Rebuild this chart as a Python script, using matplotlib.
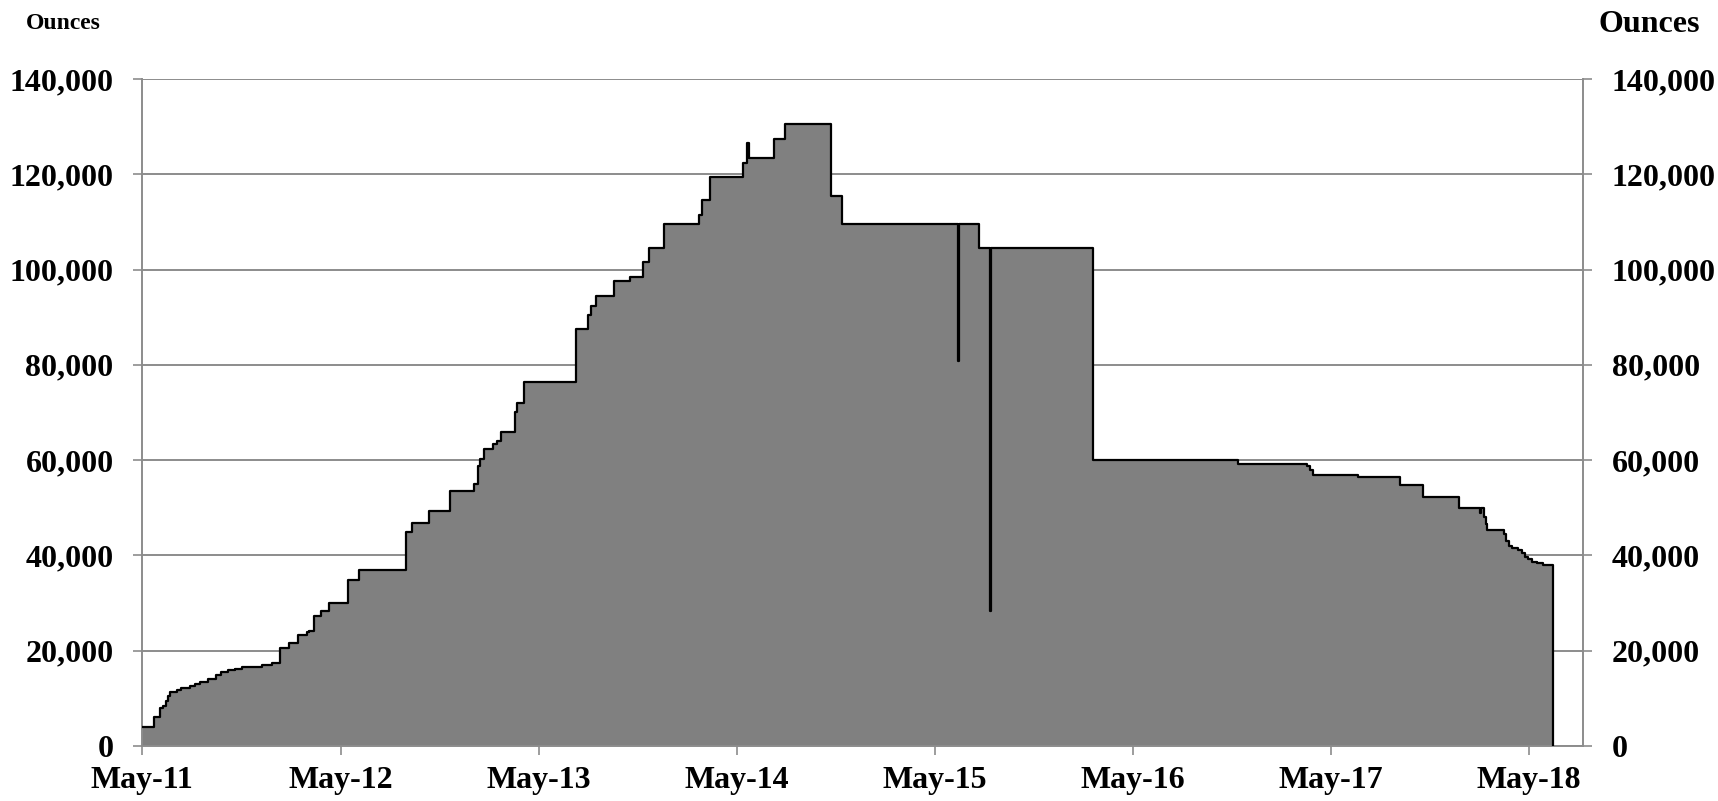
import numpy as np
import pandas as pd
import matplotlib
matplotlib.use("Agg")
import matplotlib.pyplot as plt
from matplotlib.ticker import FuncFormatter

plt.rcParams["font.family"] = ["Liberation Serif", "DejaVu Serif"]
plt.rcParams["font.weight"] = "bold"

# %% data: date of each change in holdings, ounces held from that date on
change_dates = [
    "2011-05-01", "2011-05-23", "2011-06-03", "2011-06-09", "2011-06-14",
    "2011-06-18", "2011-06-22", "2011-07-04", "2011-07-11", "2011-07-28",
    "2011-08-07", "2011-08-16", "2011-08-31", "2011-09-14", "2011-09-24",
    "2011-10-07", "2011-10-19", "2011-11-02", "2011-12-08", "2011-12-26",
    "2012-01-10", "2012-01-26", "2012-02-13", "2012-02-29", "2012-03-04",
    "2012-03-12", "2012-03-26", "2012-04-10", "2012-05-15", "2012-06-04",
    "2012-08-29", "2012-09-09", "2012-10-10", "2012-11-19", "2013-01-01",
    "2013-01-09", "2013-01-12", "2013-01-21", "2013-02-05", "2013-02-13",
    "2013-02-20", "2013-03-19", "2013-03-22", "2013-04-04", "2013-07-09",
    "2013-07-31", "2013-08-06", "2013-08-15", "2013-09-17", "2013-10-17",
    "2013-11-09", "2013-11-21", "2013-12-18", "2014-02-20", "2014-02-27",
    "2014-03-13", "2014-05-13", "2014-05-21", "2014-05-23", "2014-07-08",
    "2014-07-29", "2014-10-21", "2014-11-12", "2015-06-13", "2015-06-15",
    "2015-07-22", "2015-08-11", "2015-08-13", "2016-02-17", "2016-11-11",
    "2017-03-17", "2017-03-23", "2017-03-29", "2017-06-20", "2017-09-04",
    "2017-10-18", "2017-12-22", "2018-01-31", "2018-02-02", "2018-02-07",
    "2018-02-11", "2018-02-13", "2018-03-15", "2018-03-20", "2018-03-25",
    "2018-03-31", "2018-04-11", "2018-04-18", "2018-04-23", "2018-04-29",
    "2018-05-06", "2018-05-15", "2018-05-27",
]
ounces = [
    4000, 6000, 8000, 8400, 9500,
    10400, 11400, 11750, 12200, 12600,
    12950, 13500, 14000, 14900, 15600,
    15950, 16150, 16650, 17000, 17350,
    20600, 21700, 23300, 23900, 24100,
    27300, 28400, 30000, 34800, 36900,
    45000, 46900, 49400, 53500, 54900,
    58800, 60300, 62300, 63300, 64000,
    66000, 70000, 71900, 76500, 87500,
    90500, 92400, 94500, 97500, 98400,
    101500, 104500, 109500, 111500, 114500,
    119500, 122400, 126600, 123500, 127400,
    130500, 115500, 109500, 80900, 109500,
    104500, 28400, 104500, 60000, 59200,
    58800, 57900, 56900, 56400, 54850,
    52200, 50000, 49000, 50000, 48000,
    46500, 45300, 44500, 43000, 42000,
    41500, 41100, 40600, 39700, 39200,
    38700, 38400, 38000,
]
last_date = "2018-06-14"

x_start = "2011-05-01"
x_end = "2018-08-09"
tick_dates = pd.date_range("2011-05-01", "2018-05-01", freq="12MS")
tick_labels = [d.strftime("%b-%y") for d in tick_dates]
y_ticks = np.arange(0, 140001, 20000)

# close the step series at the last date and drop to zero
x = pd.to_datetime(change_dates + [last_date])
y = np.array(ounces + [0])

grey = "#8c8c8c"

# %% plot
fig = plt.figure(figsize=(17.18, 8.01), dpi=100)
ax = fig.add_axes([0.0827, 0.0687, 0.9217 - 0.0827, 0.9014 - 0.0687])

ax.fill_between(x, y, step="post", color="#808080", lw=0, zorder=2)
ax.plot(x, y, drawstyle="steps-post", color="black", lw=1.6, zorder=3)

ax.set_xlim(pd.Timestamp(x_start), pd.Timestamp(x_end))
ax.set_ylim(0, 140000)
ax.set_xticks(tick_dates)
ax.set_xticklabels(tick_labels)
ax.set_yticks(y_ticks)
ax.yaxis.set_major_formatter(FuncFormatter(lambda v, p: f"{v:,.0f}"))

ax.yaxis.grid(True, color=grey, lw=1.4)
ax.set_axisbelow(True)
for side in ["left", "right", "bottom"]:
    ax.spines[side].set_color(grey)
    ax.spines[side].set_linewidth(1.4)
ax.spines["top"].set_visible(False)

ax.tick_params(axis="y", which="both", left=True, right=True, labelleft=True,
               labelright=True, direction="out", length=6.5, width=1.2,
               color=grey, pad=14, labelsize=23)
ax.tick_params(axis="x", direction="out", length=6.5, width=1.2, color=grey,
               pad=8, labelsize=23)

fig.text(0.015, 0.971, "Ounces", fontsize=17, fontweight="bold",
         ha="left", va="center")
fig.text(0.9895, 0.970, "Ounces", fontsize=23, fontweight="bold",
         ha="right", va="center")

fig.savefig("out.png", dpi=100)
